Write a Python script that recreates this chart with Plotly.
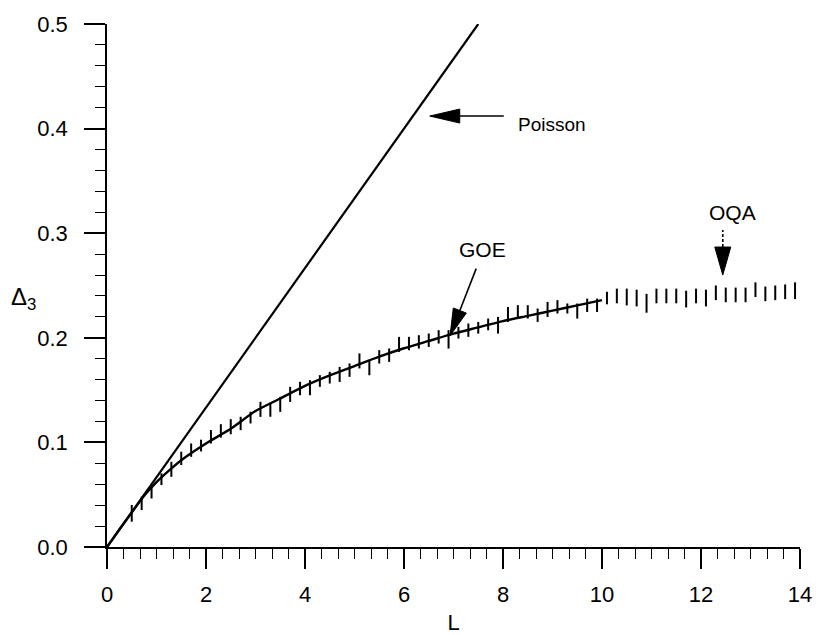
import math
import plotly.graph_objects as go

# Poisson limit: straight line Delta_3 = L/15
poisson_L = [0.0, 7.5]
poisson_delta = [0.0, 0.5]

# GOE prediction (smooth curve)
goe_L = [0.0, 0.25, 0.5, 0.75, 1.0, 1.25, 1.5, 2.0, 2.5, 3.0, 3.5, 4.0, 4.5,
         5.0, 5.5, 6.0, 6.5, 7.0, 7.5, 8.0, 8.5, 9.0, 9.5, 10.0]
goe_delta = [0.0, 0.0167, 0.033, 0.049, 0.062, 0.073, 0.083, 0.099, 0.113,
             0.130, 0.142, 0.154, 0.164, 0.173, 0.182, 0.190, 0.197, 0.204,
             0.210, 0.216, 0.221, 0.226, 0.231, 0.236]

# OQA spectral rigidity with statistical error bars
oqa_L = [0.5, 0.7, 0.9, 1.1, 1.3, 1.5, 1.7, 1.9, 2.1, 2.3, 2.5, 2.7, 2.9, 3.1,
         3.3, 3.5, 3.7, 3.9, 4.1, 4.3, 4.5, 4.7, 4.9, 5.1, 5.3, 5.5, 5.7, 5.9,
         6.1, 6.3, 6.5, 6.7, 6.9, 7.1, 7.3, 7.5, 7.7, 7.9, 8.1, 8.3, 8.5, 8.7,
         8.9, 9.1, 9.3, 9.5, 9.7, 9.9, 10.1, 10.3, 10.5, 10.7, 10.9, 11.1,
         11.3, 11.5, 11.7, 11.9, 12.1, 12.3, 12.5, 12.7, 12.9, 13.1, 13.3,
         13.5, 13.7, 13.9]
oqa_delta = [0.0322, 0.0417, 0.0520, 0.0648, 0.0743, 0.0847, 0.0926, 0.0970,
             0.1054, 0.1110, 0.1150, 0.1181, 0.1237, 0.1316, 0.1309, 0.1364,
             0.1459, 0.1515, 0.1523, 0.1587, 0.1619, 0.1650, 0.1691, 0.1779,
             0.1714, 0.1818, 0.1834, 0.1937, 0.1945, 0.1961, 0.1977, 0.2009,
             0.1985, 0.2049, 0.2073, 0.2096, 0.2128, 0.2120, 0.2223, 0.2248,
             0.2248, 0.2216, 0.2271, 0.2296, 0.2280, 0.2256, 0.2311, 0.2311,
             0.2380, 0.2400, 0.2390, 0.2380, 0.2330, 0.2400, 0.2400, 0.2400,
             0.2370, 0.2400, 0.2380, 0.2430, 0.2410, 0.2410, 0.2410, 0.2460,
             0.2420, 0.2430, 0.2440, 0.2450]
oqa_err = [0.0080, 0.0064, 0.0056, 0.0056, 0.0072, 0.0064, 0.0064, 0.0056,
           0.0064, 0.0064, 0.0072, 0.0064, 0.0056, 0.0072, 0.0064, 0.0072,
           0.0072, 0.0064, 0.0072, 0.0056, 0.0056, 0.0072, 0.0064, 0.0072,
           0.0072, 0.0064, 0.0064, 0.0072, 0.0064, 0.0064, 0.0064, 0.0064,
           0.0088, 0.0056, 0.0064, 0.0056, 0.0056, 0.0080, 0.0072, 0.0064,
           0.0064, 0.0064, 0.0072, 0.0064, 0.0048, 0.0072, 0.0064, 0.0064,
           0.0060, 0.0070, 0.0080, 0.0080, 0.0090, 0.0070, 0.0070, 0.0070,
           0.0080, 0.0070, 0.0080, 0.0070, 0.0070, 0.0070, 0.0070, 0.0070,
           0.0070, 0.0070, 0.0070, 0.0080]

FONT = "Arial, Liberation Sans, Helvetica, sans-serif"
INK = "black"
FS = 22

fig = go.Figure()

fig.add_trace(go.Scatter(x=poisson_L, y=poisson_delta, mode="lines",
                         line=dict(color=INK, width=2.2), showlegend=False,
                         hoverinfo="skip"))
fig.add_trace(go.Scatter(x=goe_L, y=goe_delta, mode="lines",
                         line=dict(color=INK, width=2.4, shape="spline",
                                   smoothing=0.6),
                         showlegend=False, hoverinfo="skip"))
fig.add_trace(go.Scatter(x=oqa_L, y=oqa_delta, mode="markers",
                         marker=dict(size=1, color="rgba(0,0,0,0)"),
                         error_y=dict(type="data", array=oqa_err, width=0,
                                      thickness=2, color=INK),
                         showlegend=False))


def arrow(tip_x, tip_y, dx, dy, head_len, half_w, shaft_len, dash="solid"):
    """Filled arrow whose tip sits at a data point; (dx, dy) is the pixel
    direction from the tip back towards the tail (y up)."""
    n = math.hypot(dx, dy)
    ux, uy = dx / n, dy / n
    px, py = -uy * half_w, ux * half_w
    bx, by = ux * head_len, uy * head_len
    head = (f"M0,0 L{bx + px:.2f},{by + py:.2f} "
            f"L{bx - px:.2f},{by - py:.2f} Z")
    common = dict(xref="x", yref="y", xsizemode="pixel", ysizemode="pixel",
                  xanchor=tip_x, yanchor=tip_y)
    fig.add_shape(type="path", path=head, fillcolor=INK,
                  line=dict(color=INK, width=1), **common)
    fig.add_shape(type="line", x0=bx, y0=by,
                  x1=ux * (head_len + shaft_len), y1=uy * (head_len + shaft_len),
                  line=dict(color=INK, width=1.6, dash=dash), **common)


arrow(6.52, 0.412, 1, 0, 30, 7, 44)
arrow(6.93, 0.202, 26, 66.7, 27, 7, 45)
arrow(12.44, 0.260, 0, 1, 28, 8, 17, dash="3px,2px")

label_font = dict(family=FONT, size=FS - 1, color=INK)
fig.add_annotation(x=8.27, y=0.404, text="Poisson", showarrow=False,
                   xanchor="left", yanchor="middle",
                   font=dict(family=FONT, size=FS - 3, color=INK))
fig.add_annotation(x=7.59, y=0.284, text="GOE", showarrow=False,
                   xanchor="center", yanchor="middle", font=label_font)
fig.add_annotation(x=12.64, y=0.320, text="OQA", showarrow=False,
                   xanchor="center", yanchor="middle", font=label_font)
fig.add_annotation(xref="paper", x=-0.142, y=0.238, text="Δ<sub>3</sub>",
                   showarrow=False, xanchor="left", yanchor="middle",
                   font=dict(family=FONT, size=FS + 2, color=INK))

fig.update_layout(
    template="none",
    width=816, height=635,
    margin=dict(l=107, r=16, t=24, b=88, autoexpand=False),
    paper_bgcolor="white", plot_bgcolor="white",
    font=dict(family=FONT, size=FS, color=INK),
    xaxis=dict(range=[0, 14], dtick=2, tick0=0, showgrid=False, zeroline=False,
               automargin=False,
               showline=True, linecolor=INK, linewidth=1.6,
               ticks="outside", ticklen=20, tickwidth=1.5, tickcolor=INK,
               ticklabelstandoff=7,
               minor=dict(dtick=2 / 6, tick0=0, ticks="outside", ticklen=10,
                          tickwidth=1.2, tickcolor=INK, showgrid=False),
               title=dict(text="L", standoff=16,
                          font=dict(family=FONT, size=FS, color=INK))),
    yaxis=dict(range=[0, 0.5], dtick=0.1, tick0=0, tickformat=".1f",
               showgrid=False, zeroline=False, automargin=False,
               showline=True, linecolor=INK, linewidth=1.6,
               ticks="outside", ticklen=21, tickwidth=1.5, tickcolor=INK,
               ticklabelstandoff=12,
               minor=dict(dtick=0.02, tick0=0, ticks="outside", ticklen=10,
                          tickwidth=1.2, tickcolor=INK, showgrid=False)),
)

fig.write_html("out.html")
